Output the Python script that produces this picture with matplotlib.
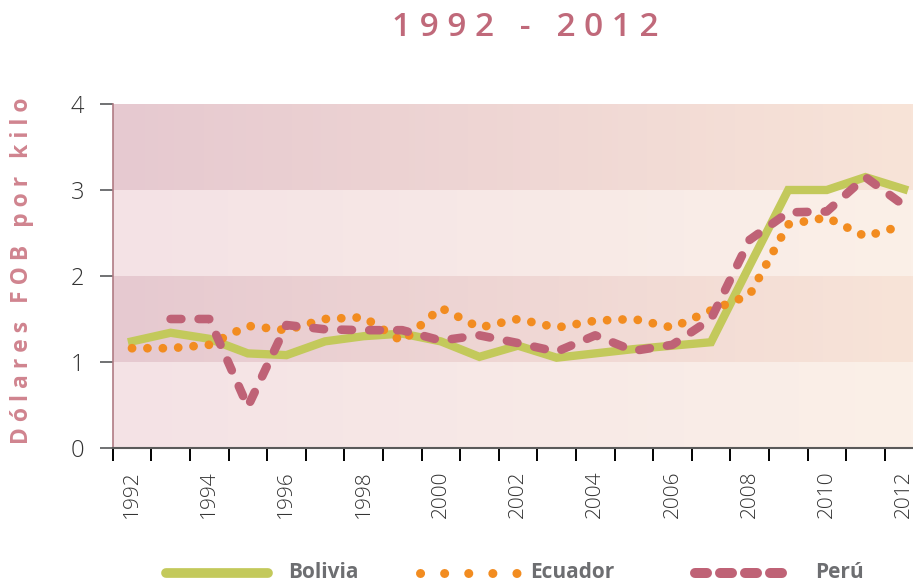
import numpy as np
import matplotlib.pyplot as plt
from matplotlib.lines import Line2D
from matplotlib.colors import to_rgb

plt.rcParams['font.family'] = ['Open Sans', 'DejaVu Sans']

years = list(range(1992, 2013))
bolivia = [1.24, 1.34, 1.27, 1.10, 1.08, 1.24, 1.30, 1.33, 1.24, 1.06, 1.19,
           1.05, 1.10, 1.15, 1.19, 1.23, 2.12, 3.00, 3.00, 3.15, 3.01]
ecuador = [1.16, 1.16, 1.20, 1.42, 1.37, 1.50, 1.52, 1.24, 1.63, 1.40, 1.50,
           1.40, 1.48, 1.50, 1.40, 1.60, 1.78, 2.60, 2.68, 2.46, 2.59]
peru = [np.nan, 1.50, 1.50, 0.48, 1.43, 1.38, 1.37, 1.37, 1.25, 1.31, 1.22,
        1.12, 1.31, 1.13, 1.20, 1.50, 2.42, 2.74, 2.75, 3.15, 2.82]
tick_years = years[::2]

green = '#c3c95b'
orange = '#f28c20'
mauve = '#bf6276'

W, H = 913, 584
fig = plt.figure(figsize=(W / 100, H / 100), dpi=100)
ax = fig.add_axes([112.7 / W, 1 - 448 / H, 800.3 / W, 344 / H])

x = np.arange(len(years))
xmin, xmax = -0.5, -0.5 + 800.3 / 38.6

# banded background with a pink -> peach gradient
dark = (to_rgb('#e6c9d0'), to_rgb('#f8e4d8'))
light = (to_rgb('#f4e2e5'), to_rgb('#fbf0e8'))
t = np.linspace(0, 1, 300)[:, None]
rows = []
for band in [light, dark, light, dark]:
    c0, c1 = np.array(band[0]), np.array(band[1])
    rows.append(c0 * (1 - t) + c1 * t)
img = np.stack(rows)
ax.imshow(img, extent=(xmin, xmax, 0, 4), origin='lower', aspect='auto',
          interpolation='nearest', zorder=0)

ax.plot(x, bolivia, color=green, lw=6, solid_joinstyle='miter', zorder=2)
ax.plot(x, ecuador, color=orange, lw=6.3, linestyle=(0, (0.01, 1.75)),
        dash_capstyle='round', zorder=3)
ax.plot(x, peru, color=mauve, lw=6.2, linestyle=(0, (1.25, 2.0)),
        dash_capstyle='round', zorder=4)

ax.set_xlim(xmin, xmax)
ax.set_ylim(0, 4)

ax.set_xticks(np.arange(-0.5, 20.5, 1))
ax.set_xticklabels([])
ax.set_xticks(x[::2], minor=True)
ax.set_xticklabels([str(y) for y in tick_years], minor=True, rotation=90)
ax.tick_params(axis='x', which='minor', length=0, pad=16, labelsize=15,
               labelcolor='#333333')
ax.tick_params(axis='x', which='major', length=9.5, width=1.4)
for i, tk in enumerate(ax.xaxis.get_major_ticks()):
    tk.tick1line.set_color('#8c8c8c' if i % 2 == 0 else '#231f20')
for lab in ax.get_xticklabels(minor=True):
    lab.set_fontweight('light')

ax.set_yticks([0, 1, 2, 3, 4])
ax.tick_params(axis='y', length=9.5, width=1.2, color='#58595b',
               labelsize=17, labelcolor='#333333', pad=11)
for lab in ax.get_yticklabels():
    lab.set_fontweight('light')

for s in ['top', 'right']:
    ax.spines[s].set_visible(False)
ax.spines['left'].set_color('#b07b84')
ax.spines['left'].set_linewidth(1.2)
ax.spines['bottom'].set_color('#5a5a5a')
ax.spines['bottom'].set_linewidth(1.5)

fig.text(22 / W, 1 - 271 / H, 'D ó l a r e s   F O B   p o r   k i l o',
         rotation=90, ha='center', va='center', color='#d0848f',
         fontsize=16.5, fontweight='bold')
fig.text(525 / W, 1 - 28 / H, '1 9 9 2   -   2 0 1 2', ha='center',
         va='center', color='#c0697a', fontsize=24, fontweight='semibold')

# legend
ly = 1 - 573 / H
fig.add_artist(Line2D([166 / W, 268 / W], [ly, ly], transform=fig.transFigure,
                      color=green, lw=7, solid_capstyle='round'))
fig.add_artist(Line2D([420 / W, 519 / W], [ly, ly], transform=fig.transFigure,
                      color=orange, lw=6.5, linestyle=(0, (0.01, 2.66)),
                      dash_capstyle='round'))
fig.add_artist(Line2D([695 / W, 785 / W], [ly, ly], transform=fig.transFigure,
                      color=mauve, lw=7.2, linestyle=(0, (1.2, 1.3)),
                      dash_capstyle='round'))
for tx, label in [(288, 'Bolivia'), (530, 'Ecuador'), (815, 'Perú')]:
    fig.text(tx / W, ly, label, ha='left', va='center', color='#6d6e71',
             fontsize=15, fontweight='bold')

fig.savefig('out.png', dpi=100)
